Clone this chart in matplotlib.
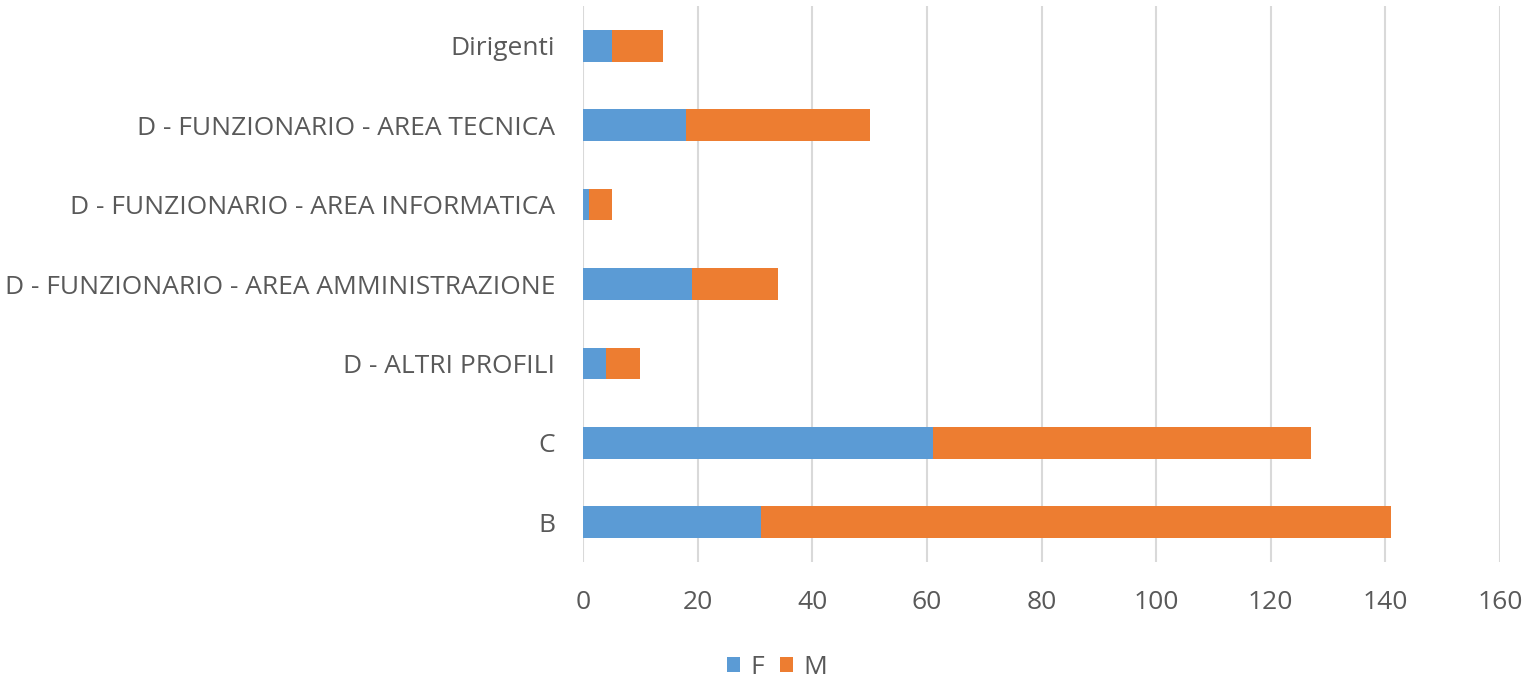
import matplotlib.pyplot as plt
import numpy as np

# --- DATI ---
categorie = ['B', 'C', 'D - ALTRI PROFILI', 'D - FUNZIONARIO - AREA AMMINISTRAZIONE',
             'D - FUNZIONARIO - AREA INFORMATICA', 'D - FUNZIONARIO - AREA TECNICA', 'Dirigenti']
femmine = [31, 61, 4, 19, 1, 18, 5]
maschi = [110, 66, 6, 15, 4, 32, 9]
xticks = [0, 20, 40, 60, 80, 100, 120, 140, 160]

plt.rcParams['font.family'] = ['Open Sans', 'DejaVu Sans']
grigio = '#595959'

fig = plt.figure(figsize=(15.28, 6.81), dpi=100)
ax = fig.add_axes([583 / 1528, 1 - 562 / 681, 917 / 1528, 556 / 681])

y = np.arange(len(categorie))
ax.barh(y, femmine, height=0.4, color='#5B9BD5', label='F', zorder=3)
ax.barh(y, maschi, left=femmine, height=0.4, color='#ED7D31', label='M', zorder=3)

ax.set_xlim(0, 160)
ax.set_ylim(-0.5, len(categorie) - 0.5)
ax.set_xticks(xticks)
ax.set_yticks(y)
ax.set_yticklabels(categorie)
ax.grid(axis='x', color='#D9D9D9', linewidth=1.5, zorder=0)
for s in ax.spines.values():
    s.set_visible(False)
ax.tick_params(axis='both', length=0, labelsize=19, colors=grigio)
ax.tick_params(axis='y', pad=20)
ax.tick_params(axis='x', pad=20)

fig.legend(loc='center', bbox_to_anchor=(777 / 1528, 1 - 667 / 681), ncol=2, frameon=False,
           fontsize=19, labelcolor=grigio, handlelength=0.5, handleheight=0.5,
           handletextpad=0.4, columnspacing=0.6)

fig.savefig('out.png')
